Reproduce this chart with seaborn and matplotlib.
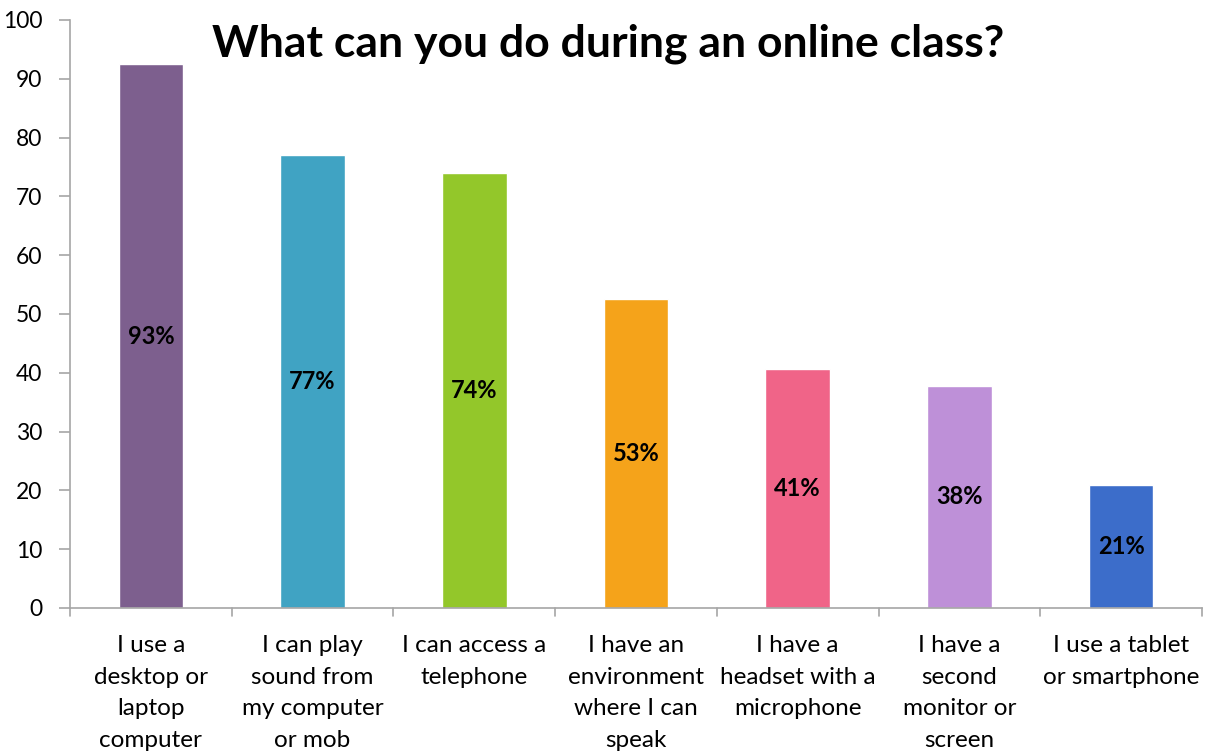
import matplotlib
matplotlib.use("Agg")
import matplotlib.pyplot as plt
import seaborn as sns
import pandas as pd

categories = [
    "I use a\ndesktop or\nlaptop\ncomputer",
    "I can play\nsound from\nmy computer\nor mob",
    "I can access a\ntelephone",
    "I have an\nenvironment\nwhere I can\nspeak",
    "I have a\nheadset with a\nmicrophone",
    "I have a\nsecond\nmonitor or\nscreen",
    "I use a tablet\nor smartphone",
]
values = [92.5, 77.0, 74.0, 52.6, 40.6, 37.8, 20.9]
labels = ["93%", "77%", "74%", "53%", "41%", "38%", "21%"]
colors = ["#7D5F8E", "#40A3C3", "#93C72A", "#F5A31A", "#F06488", "#BE90D8", "#3C6DCA"]
title = "What can you do during an online class?"
yticks = list(range(0, 101, 10))

sns.set_theme(style="white")
plt.rcParams["font.family"] = ["Lato", "DejaVu Sans"]

df = pd.DataFrame({"cat": categories, "val": values})

fig = plt.figure(figsize=(12.09, 7.53), dpi=100)
ax = fig.add_axes([70/1209, 1 - 608/753, (1202-70)/1209, (608-20)/753])
sns.barplot(data=df, x="cat", y="val", hue="cat", palette=colors, legend=False,
            width=0.40, saturation=1, ax=ax)

for i, (v, lab) in enumerate(zip(values, labels)):
    ax.text(i, v / 2, lab, ha="center", va="center", fontsize=17, fontweight="bold", color="black")

ax.set_ylim(0, 100)
ax.set_xlim(-0.5, len(categories) - 0.5)
ax.set_yticks(yticks)
ax.set_xlabel("")
ax.set_ylabel("")
ax.set_xticks(range(len(categories)))
ax.set_xticklabels(categories, fontsize=17.5, linespacing=1.62)
ax.tick_params(axis="x", length=0, pad=19.5, labelcolor="black")
ax.tick_params(axis="y", length=8, width=1.2, color="#A6A6A6", labelsize=16.5, pad=12,
               left=True, labelcolor="black")
for x in [i - 0.5 for i in range(len(categories) + 1)]:
    ax.plot([x, x], [0, -1.4], color="#A6A6A6", lw=1.2, clip_on=False)

for s in ["top", "right"]:
    ax.spines[s].set_visible(False)
for s in ["left", "bottom"]:
    ax.spines[s].set_color("#A6A6A6")
    ax.spines[s].set_linewidth(1.2)

fig.text(608/1209, 1 - 44/753, title, ha="center", va="center", fontsize=32,
         fontweight="bold", color="black")

fig.savefig("out.png", dpi=100)
